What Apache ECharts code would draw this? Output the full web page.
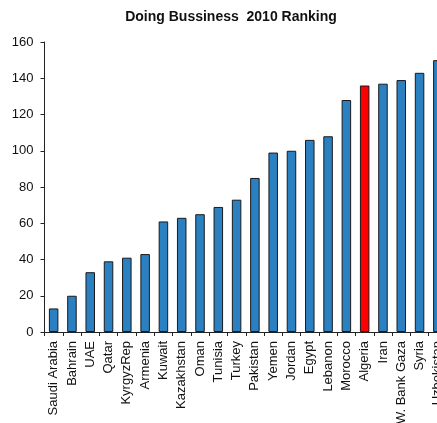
<!DOCTYPE html>
<html><head><meta charset="utf-8">
<script src="https://cdn.jsdelivr.net/npm/echarts@6/dist/echarts.min.js"></script>
<style>html,body{margin:0;padding:0;background:#fff;overflow:hidden}
#c{width:437px;height:423px}</style>
</head><body><div id="c"></div>
<script>
const categories = ["Saudi Arabia","Bahrain","UAE","Qatar","KyrgyzRep","Armenia","Kuwait","Kazakhstan","Oman","Tunisia","Turkey","Pakistan","Yemen","Jordan","Egypt","Lebanon","Morocco","Algeria","Iran","W. Bank Gaza","Syria","Uzbekistan"];
const ranks = [13,20,33,39,41,43,61,63,65,69,73,85,99,100,106,108,128,136,137,139,143,150];
const highlight = "Algeria";
const yTicks = [0,20,40,60,80,100,120,140,160];

const chart = echarts.init(document.getElementById('c'), null, {renderer:'canvas'});
chart.setOption({
  animation:false,
  title:{text:"Doing Bussiness  2010 Ranking",left:226,textAlign:'center',top:5,
    textStyle:{fontFamily:'Liberation Sans, Arial',fontSize:14,fontWeight:'bold',color:'#111'}},
  grid:{left:44.5,right:-10,top:42,bottom:91,containLabel:false,outerBoundsMode:'none'},
  xAxis:{type:'category',data:categories,
    axisLine:{lineStyle:{color:'#222',width:1}},
    axisTick:{show:true,alignWithLabel:false,length:4,lineStyle:{color:'#222'}},
    axisLabel:{rotate:90,interval:0,margin:9,fontFamily:'Liberation Sans, Arial',fontSize:13,color:'#111'}},
  yAxis:{type:'value',min:yTicks[0],max:yTicks[yTicks.length-1],interval:20,
    axisLine:{show:true,lineStyle:{color:'#222',width:1}},
    axisTick:{show:true,length:4,lineStyle:{color:'#222'}},
    splitLine:{show:false},
    axisLabel:{margin:11,fontFamily:'Liberation Sans, Arial',fontSize:13,color:'#111'}},
  series:[{type:'bar',barWidth:'52%',
    data:ranks.map((v,i)=>({value:v,itemStyle:{color:categories[i]===highlight?'#ff0000':'#2a80c0'}})),
    itemStyle:{borderColor:'#1a1a1a',borderWidth:1}}]
});
</script></body></html>
